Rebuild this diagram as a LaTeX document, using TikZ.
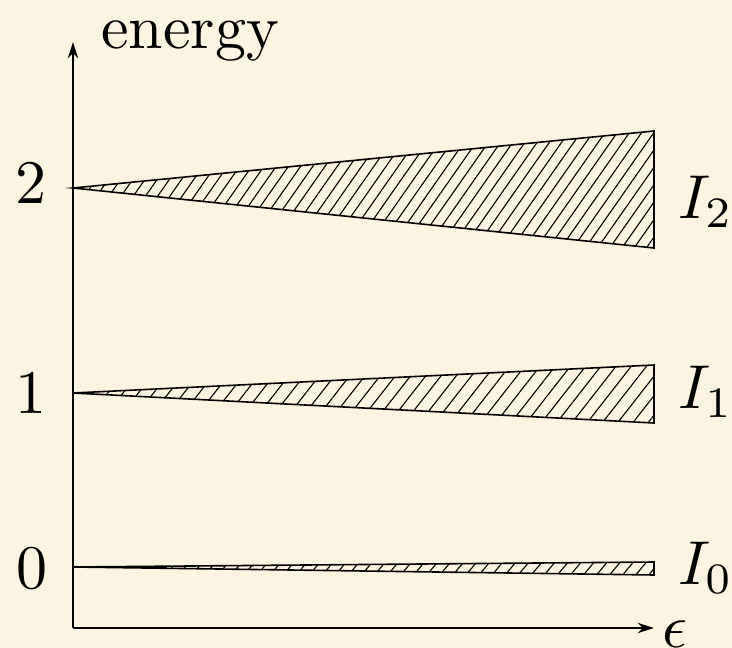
\documentclass[tikz,border=0pt]{standalone}
\usetikzlibrary{patterns.meta,arrows.meta}
\definecolor{bg}{RGB}{251,244,224}
\newcommand{\biglab}[1]{\scalebox{6.2}{#1}}
\begin{document}
\begin{tikzpicture}[x=1pt,y=-1pt,
  axis/.style={line width=2.8pt,-{Stealth[length=16pt,width=10pt,inset=5pt]}},
  band/.style={line width=1.6pt},
  lbl/.style={inner sep=0pt}]
\fill[bg] (0,0) rectangle (732,648);
\useasboundingbox (0,0) rectangle (732,648);
\coordinate (O) at (73,628);
\coordinate (ytop) at (73,42);
\coordinate (xend) at (654,628);
\draw[axis] (O) -- (ytop);
\draw[axis] (O) -- (xend);
\node[lbl,anchor=base west] (en) at (101,48) {\biglab{energy}};
\node[lbl,anchor=base west] (eps) at (662,647) {\biglab{$\epsilon$}};
% level 2
\coordinate (a2) at (73,188);
\coordinate (b2) at (654,131);
\coordinate (c2) at (654,248);
\draw[band,pattern={Lines[angle=55,distance=10pt,line width=1.1pt]}] (a2) -- (b2) -- (c2) -- cycle;
% level 1
\coordinate (a1) at (73,393);
\coordinate (b1) at (654,365);
\coordinate (c1) at (654,423);
\draw[band,pattern={Lines[angle=52,distance=12pt,line width=1.1pt]}] (a1) -- (b1) -- (c1) -- cycle;
% level 0
\coordinate (a0) at (73,567);
\coordinate (b0) at (654,562);
\coordinate (c0) at (654,575);
\draw[band,pattern={Lines[angle=50,distance=10pt,line width=1.1pt]}] (a0) -- (b0) -- (c0) -- cycle;
% tick labels
\node[lbl,anchor=base] (t2) at (31,203) {\biglab{2}};
\node[lbl,anchor=base] (t1) at (31,413) {\biglab{1}};
\node[lbl,anchor=base] (t0) at (32,588) {\biglab{0}};
% interval labels
\node[lbl,anchor=base west] (I2) at (678,218) {\biglab{$I_2$}};
\node[lbl,anchor=base west] (I1) at (678,408) {\biglab{$I_1$}};
\node[lbl,anchor=base west] (I0) at (678,584) {\biglab{$I_0$}};
\end{tikzpicture}
\end{document}
